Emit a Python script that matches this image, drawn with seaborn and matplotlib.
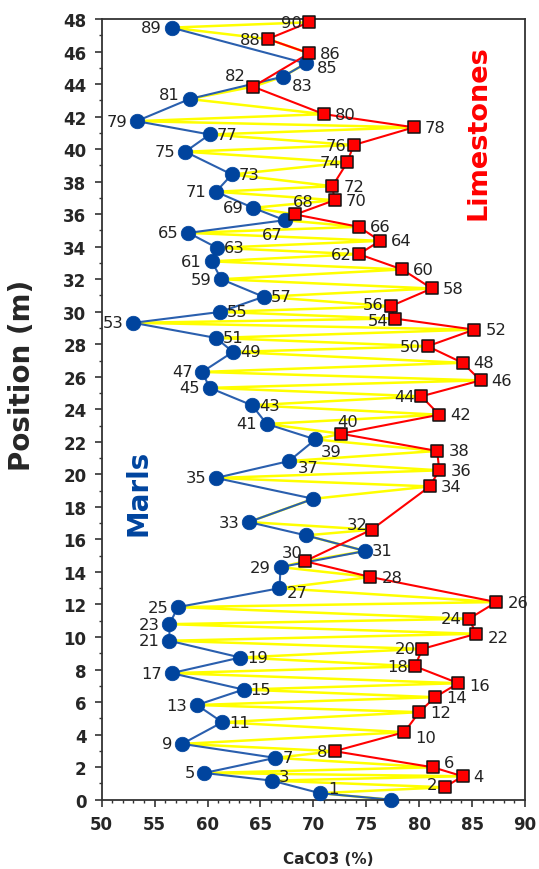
import pandas as pd
import matplotlib
matplotlib.use("Agg")
import matplotlib.pyplot as plt
from matplotlib.ticker import MultipleLocator
import seaborn as sns

# ============================================
# DATA
# ============================================

marl_id = ["", "1", "3", "5", "7", "9", "11", "13", "15", "17", "19", "21", "23", "25",
           "27", "29", "31", "", "33", "", "35", "37", "39", "41", "43", "45", "47",
           "49", "51", "53", "55", "57", "59", "61", "63", "65", "67", "69", "71",
           "73", "75", "77", "79", "81", "83", "85", "89"]
marl_caco3 = [77.3, 70.6, 66.1, 59.7, 66.4, 57.6, 61.4, 59.0, 63.4, 56.6, 63.1, 56.4,
              56.4, 57.2, 66.8, 66.9, 74.9, 69.3, 63.9, 70.0, 60.8, 67.7, 70.2, 65.6,
              64.2, 60.2, 59.5, 62.4, 60.8, 53.0, 61.2, 65.3, 61.3, 60.4, 60.9, 58.2,
              67.3, 64.3, 60.8, 62.3, 57.9, 60.2, 53.3, 58.3, 67.1, 69.3, 56.6]
marl_pos = [0.0, 0.4, 1.17, 1.64, 2.57, 3.43, 4.76, 5.82, 6.77, 7.78, 8.74, 9.77,
            10.79, 11.84, 13.0, 14.3, 15.29, 16.25, 17.07, 18.5, 19.78, 20.82, 22.15,
            23.1, 24.25, 25.32, 26.3, 27.53, 28.39, 29.32, 29.99, 30.92, 32.0, 33.1,
            33.93, 34.85, 35.63, 36.39, 37.38, 38.44, 39.84, 40.9, 41.72, 43.08, 44.45,
            45.27, 47.47]

lime_id = ["2", "4", "6", "8", "10", "12", "14", "16", "18", "20", "22", "24", "26",
           "28", "30", "32", "34", "36", "38", "40", "42", "44", "46", "48", "50", "52",
           "54", "56", "58", "60", "62", "64", "66", "68", "70", "72", "74", "76", "78",
           "80", "82", "86", "88", "90"]
lime_caco3 = [82.4, 84.1, 81.3, 72.0, 78.6, 80.0, 81.5, 83.7, 79.6, 80.3, 85.4, 84.7,
              87.3, 75.4, 69.2, 75.5, 81.0, 81.9, 81.7, 72.6, 81.9, 80.2, 85.8, 84.1,
              80.8, 85.2, 77.7, 77.3, 81.2, 78.4, 74.3, 76.3, 74.3, 68.3, 72.0, 71.8,
              73.2, 73.8, 79.5, 71.0, 64.3, 69.6, 65.7, 69.6]
lime_pos = [0.76, 1.44, 1.99, 2.98, 4.15, 5.38, 6.3, 7.16, 8.2, 9.27, 10.2, 11.12,
            12.15, 13.69, 14.66, 16.6, 19.26, 20.25, 21.44, 22.5, 23.67, 24.8, 25.78,
            26.86, 27.88, 28.9, 29.58, 30.34, 31.43, 32.6, 33.54, 34.36, 35.22, 35.98,
            36.86, 37.72, 39.18, 40.25, 41.34, 42.15, 43.84, 45.89, 46.77, 47.8]

# labels sitting on the left of their point
left_labels = {"2", "5", "8", "9", "13", "17", "18", "20", "21", "23", "24", "25", "29",
               "33", "35", "41", "44", "45", "47", "50", "53", "54", "56", "59", "61",
               "62", "65", "69", "71", "74", "75", "76", "79", "81", "88", "89", "90"}
# hand placed labels: (dx, dy, ha) in points
special = {
    "1": (6, 3, "left"), "2": (-5, 2, "right"), "3": (5, 3, "left"),
    "6": (8, 3.5, "left"), "10": (8, -3.5, "left"), "16": (8, -2, "left"),
    "22": (8, -3, "left"), "27": (5, -3, "left"), "81": (-7, 3, "right"),
    "30": (-9, 6.5, "center"), "32": (-10, 4, "center"), "37": (6.5, -5, "left"),
    "39": (4, -9, "left"), "40": (5, 9, "center"), "67": (-9, -10, "center"),
    "68": (6, 9, "center"), "82": (-13, 8, "center"), "83": (6.5, -6.5, "left"),
    "85": (8, -3, "left"), "54": (-5, -1.5, "right"), "56": (-5, 1, "right"),
}

marls = pd.DataFrame({"id": marl_id, "caco3": marl_caco3, "pos": marl_pos})
limes = pd.DataFrame({"id": lime_id, "caco3": lime_caco3, "pos": lime_pos})
both = pd.concat([marls, limes]).sort_values("pos")

# ============================================
# PLOT
# ============================================

sns.set_style("ticks")
plt.rcParams["font.family"] = ["DejaVu Sans"]

fig = plt.figure(figsize=(5.39, 8.70), dpi=100)
ax = fig.add_axes([0.1887, 0.0797, 0.7853, 0.8973])

blue = "#00449e"
red = "#ff0000"

sns.lineplot(data=both, x="caco3", y="pos", sort=False, estimator=None,
             color="#ffff00", lw=1.8, ax=ax, zorder=1)
sns.lineplot(data=marls, x="caco3", y="pos", sort=False, estimator=None,
             color="#2a5fae", lw=1.5, ax=ax, zorder=2)
sns.lineplot(data=limes, x="caco3", y="pos", sort=False, estimator=None,
             color=red, lw=1.5, ax=ax, zorder=2)
sns.scatterplot(data=marls, x="caco3", y="pos", color=blue, s=110, marker="o",
                edgecolor=blue, linewidth=0.5, ax=ax, zorder=3, clip_on=False)
sns.scatterplot(data=limes, x="caco3", y="pos", color=red, s=68, marker="s",
                edgecolor="#111111", linewidth=1.1, ax=ax, zorder=4, clip_on=False)

for df, right_off, left_off in [(marls, 5, -7), (limes, 8, -5)]:
    for _, r in df.iterrows():
        if r["id"] == "":
            continue
        if r["id"] in special:
            dx, dy, ha = special[r["id"]]
        elif r["id"] in left_labels:
            dx, dy, ha = left_off, 0, "right"
        else:
            dx, dy, ha = right_off, 0, "left"
        ax.annotate(r["id"], (r["caco3"], r["pos"]), xytext=(dx, dy),
                    textcoords="offset points", ha=ha, va="center",
                    fontsize=11.8, color="#222222", zorder=5)

ax.text(53.5, 18.9, "Marls", rotation=90, color=blue, fontsize=20,
        fontweight="bold", ha="center", va="center")
ax.text(85.6, 41.1, "Limestones", rotation=90, color=red, fontsize=19.5,
        fontweight="bold", ha="center", va="center")

ax.set_xlim(50, 90)
ax.set_ylim(0, 48)
ax.xaxis.set_major_locator(MultipleLocator(5))
ax.xaxis.set_minor_locator(MultipleLocator(1))
ax.yaxis.set_major_locator(MultipleLocator(2))
ax.yaxis.set_minor_locator(MultipleLocator(1))
ax.tick_params(which="major", direction="out", length=5, width=1.2,
               color="#333333", labelsize=12, pad=6)
ax.tick_params(which="minor", direction="out", length=2.5, width=1, color="#333333")
for lab in ax.get_xticklabels() + ax.get_yticklabels():
    lab.set_fontweight("bold")

for s in ax.spines.values():
    s.set_visible(True)
    s.set_linewidth(1.3)
    s.set_color("#333333")

ax.set_xlabel("CaCO3 (%)", fontsize=11, fontweight="bold")
ax.xaxis.set_label_coords(0.535, -0.066)
ax.set_ylabel("Position (m)", fontsize=20, fontweight="bold")
ax.yaxis.set_label_coords(-0.155, 0.545)

fig.savefig("out.png", dpi=100)
